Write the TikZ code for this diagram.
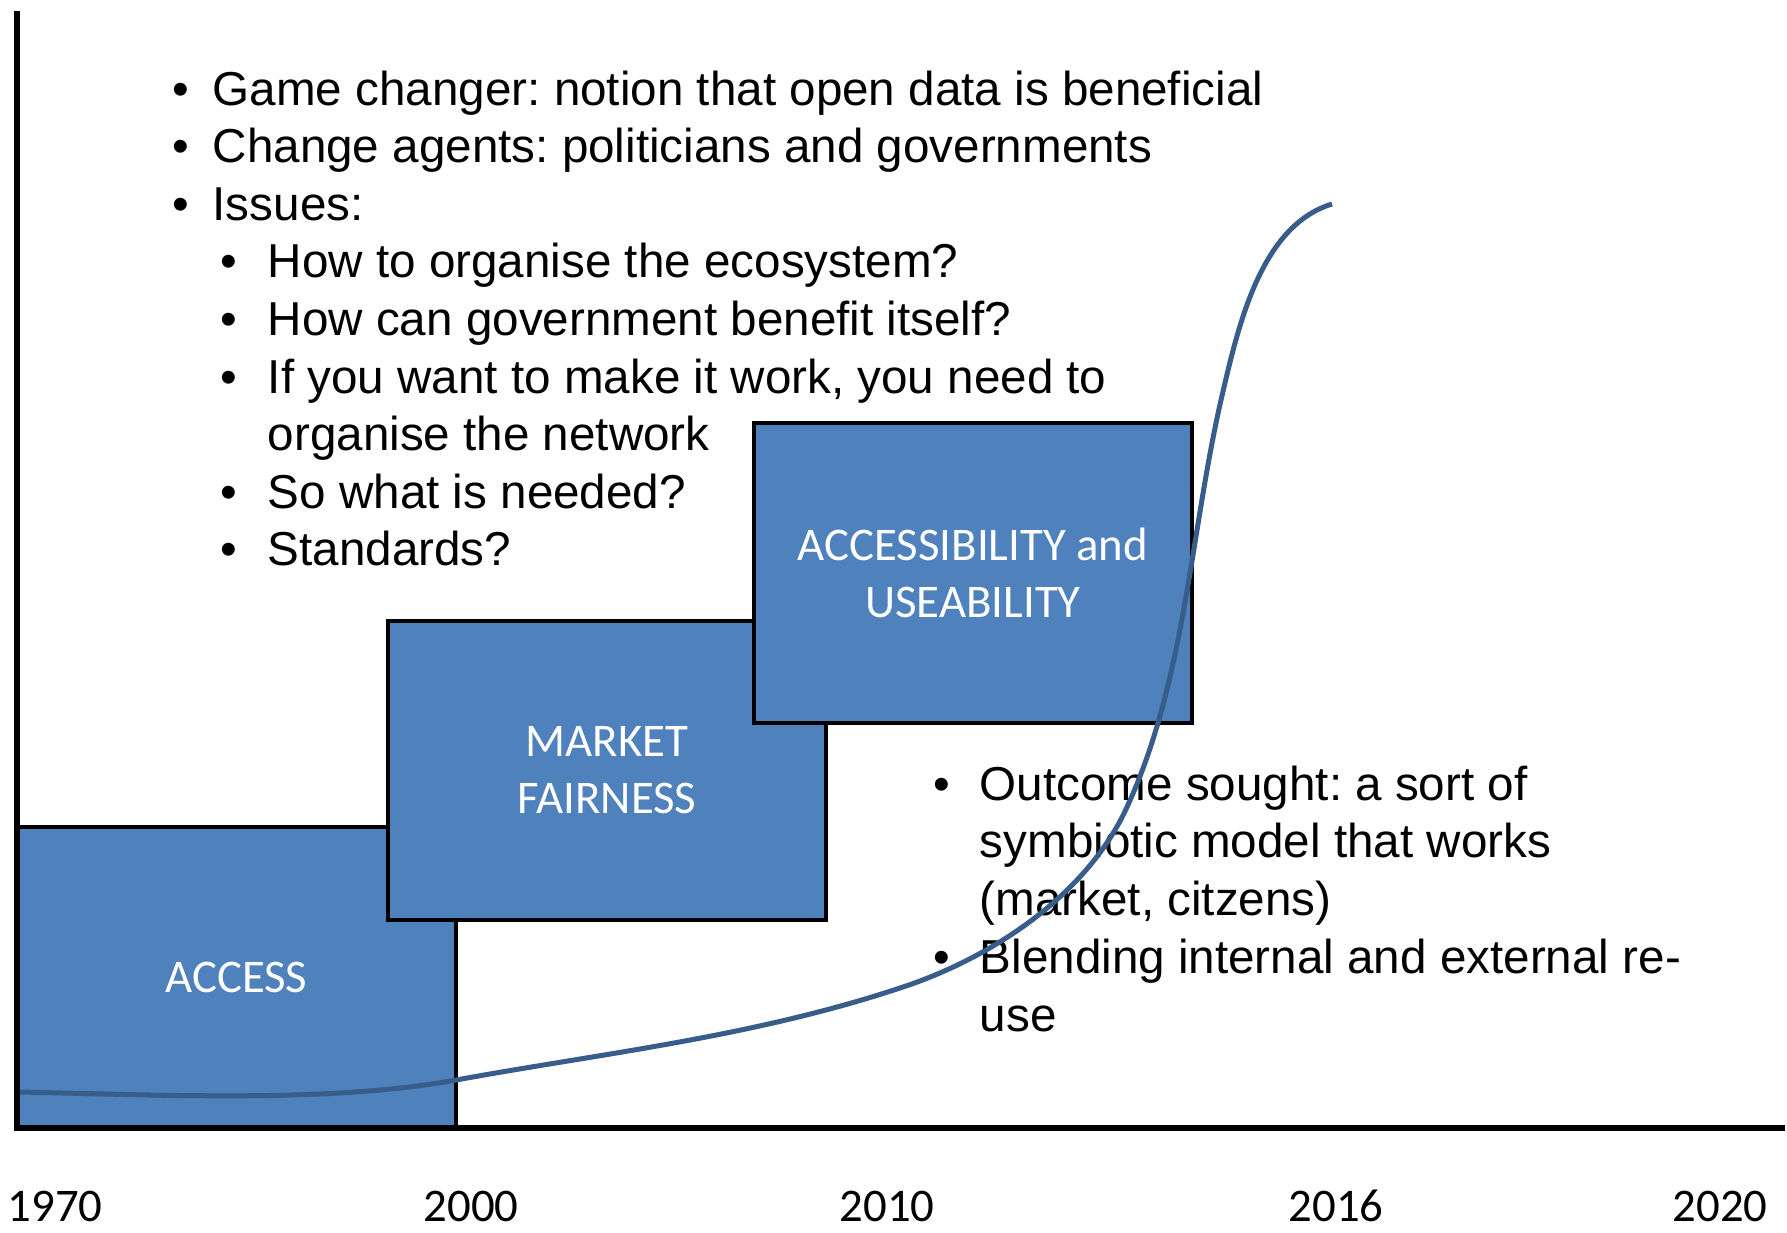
\documentclass[tikz,border=0pt]{standalone}
\usepackage{fontspec}
\setmainfont{Liberation Sans}
\newfontfamily\calibri{Carlito}
\usetikzlibrary{fit}
\definecolor{boxblue}{HTML}{4F81BD}
\definecolor{curveblue}{HTML}{385D8A}
\newcommand{\mainbullet}{\llap{\textbullet\hspace{5.9pt}}}
\newcommand{\subbullet}{\llap{\textbullet\hspace{7.7pt}}}
\newcommand{\lowbullet}{\llap{\textbullet\hspace{7.4pt}}}
\frenchspacing

\begin{document}
\begin{tikzpicture}[x=0.25pt, y=-0.25pt,
  stage/.style={draw=black, line width=1.2pt, fill=boxblue, inner sep=0pt},
  stagetext/.style={inner sep=0pt, text=white, align=center, font=\calibri\fontsize{11.7}{14.25}\selectfont},
  year/.style={anchor=base, inner sep=0pt, font=\calibri\fontsize{11.7}{14}\selectfont},
  point/.style={anchor=base west, inner sep=0pt, font=\fontsize{11.9}{14.4}\selectfont}]
	\useasboundingbox (0,0) rectangle (1787,1232);
	\node[stage, fit={(17,827) (456,1128)}] (access) {};
	\node[stagetext] (accesstext) at (access.center) {ACCESS};
	\node[stage, fit={(388,621) (826,920)}] (market) {};
	\node[stagetext] (markettext) at (market.center) {MARKET\\FAIRNESS};
	\node[stage, fit={(754,423) (1192,723)}] (usable) {};
	\node[stagetext] (usabletext) at (usable.center) {ACCESSIBILITY and\\USEABILITY};
	\coordinate (ytop) at (17,11);
	\coordinate (xend) at (1785,1128);
	\draw[line width=1.5pt] (ytop) |- (xend);
	\node[year] (y1970) at (55,1221) {1970};
	\node[year] (y2000) at (471,1221) {2000};
	\node[year] (y2010) at (887,1221) {2010};
	\node[year] (y2016) at (1336,1221) {2016};
	\node[year] (y2020) at (1720,1221) {2020};
	\node[point] (game) at (212,105) {\mainbullet Game changer: notion that open data is beneficial};
	\node[point] (agents) at (212,162.6) {\mainbullet Change agents: politicians and governments};
	\node[point] (issues) at (212,220.2) {\mainbullet Issues:};
	\node[point] (eco) at (267,277.8) {\subbullet How to organise the ecosystem?};
	\node[point] (gov) at (267,335.4) {\subbullet How can government benefit itself?};
	\node[point] (work) at (267,393) {\subbullet If you want to make it work, you need to};
	\node[point] (network) at (267,450.6) {organise the network};
	\node[point] (needed) at (267,508.2) {\subbullet So what is needed?};
	\node[point] (standards) at (267,565.8) {\subbullet Standards?};
	\node[point] (outcome) at (979,800) {\lowbullet Outcome sought: a sort of};
	\node[point] (model) at (979,857.8) {symbiotic model that works};
	\node[point] (citizens) at (979,915.6) {(market, citzens)};
	\node[point] (blend) at (979,973.4) {\lowbullet Blending internal and external re-};
	\node[point] (reuse) at (979,1031.2) {use};
	\draw[curveblue, line width=1.25pt] (20,1092) .. controls (165,1095) and (330,1103) .. (456,1080)
	  .. controls (604,1053) and (752,1037) .. (900,988)
	  .. controls (992,958) and (1087,895) .. (1127,807)
	  .. controls (1185,681) and (1190,536) .. (1221,400)
	  .. controls (1238,327) and (1260,226) .. (1332,204);
\end{tikzpicture}
\end{document}
